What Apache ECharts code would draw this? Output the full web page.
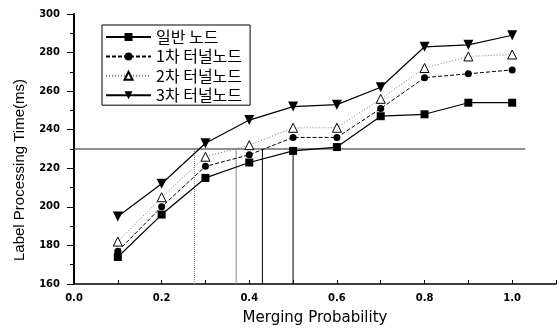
<!DOCTYPE html>
<html><head><meta charset="utf-8">
<script src="https://cdn.jsdelivr.net/npm/echarts@6/dist/echarts.min.js"></script>
<style>html,body{margin:0;padding:0;background:#fff}#c{width:559px;height:331px}</style>
</head><body><div id="c"></div>
<script>
const xValues = [0.1, 0.2, 0.3, 0.4, 0.5, 0.6, 0.7, 0.8, 0.9, 1.0];
const seriesNames = ['일반 노드', '1차 터널노드', '2차 터널노드', '3차 터널노드'];
const normalNode = [174, 196, 215, 223, 229, 231, 247, 248, 254, 254];
const tunnel1 = [177, 200, 221, 227, 236, 236, 251, 267, 269, 271];
const tunnel2 = [182, 205, 226, 232, 241, 241, 256, 272, 278, 279];
const tunnel3 = [195, 212, 233, 245, 252, 253, 262, 283, 284, 289];
const threshold = 230;
const thresholdXRange = [0, 1.03];
const crossX = [0.275, 0.37, 0.43, 0.5];
const yTicks = [160, 180, 200, 220, 240, 260, 280, 300];

const allValues = [normalNode, tunnel1, tunnel2, tunnel3];
const styles = [
  {symbol:'rect', size:8, rotate:0, color:'#000', line:'solid', lw:1.2, fill:'#000'},
  {symbol:'circle', size:7, rotate:0, color:'#000', line:[4,2], lw:1, fill:'#000'},
  {symbol:'triangle', size:9, rotate:0, color:'#777', line:[1,2], lw:1, fill:'#fff'},
  {symbol:'triangle', size:10, rotate:180, color:'#000', line:'solid', lw:1.2, fill:'#000'}
];
const vStyles = [
  {color:'#888', type:[1,1]},
  {color:'#888', type:'solid'},
  {color:'#000', type:'solid'},
  {color:'#000', type:'solid'}
];

const series = [];
allValues.forEach((vals, i) => {
  const s = styles[i];
  series.push({
    name: seriesNames[i], type: 'line',
    data: xValues.map((x, j) => [x, vals[j]]),
    symbol: s.symbol, symbolSize: s.size, symbolRotate: s.rotate,
    lineStyle: {color: s.color, width: s.lw, type: s.line},
    itemStyle: {color: s.fill, borderColor: '#000', borderWidth: i === 2 ? 1 : 0},
    z: 5
  });
});
series.push({
  name: 'threshold', type: 'line', silent: true, symbol: 'none',
  data: thresholdXRange.map(x => [x, threshold]),
  lineStyle: {color: '#222', width: 1}, z: 2
});
crossX.forEach((x, i) => {
  series.push({
    name: 'cross' + i, type: 'line', silent: true, symbol: 'none',
    data: [[x, yTicks[0]], [x, threshold]],
    lineStyle: {color: vStyles[i].color, width: 1, type: vStyles[i].type}, z: 2
  });
});

const chart = echarts.init(document.getElementById('c'), null, {renderer: 'canvas'});
chart.setOption({
  animation: false,
  backgroundColor: '#fff',
  textStyle: {fontFamily: 'Liberation Sans'},
  grid: {left: 74, right: 0, top: 14, bottom: 45.5, containLabel: false},
  legend: {
    data: seriesNames, orient: 'vertical', left: 102, top: 25,
    borderColor: '#000', borderWidth: 1, padding: [4, 8, 2, 3],
    itemWidth: 45, itemHeight: 10, itemGap: 3.4,
    textStyle: {fontFamily: 'Noto Sans CJK KR', fontSize: 16, lineHeight: 14, color: '#000'}
  },
  xAxis: {
    type: 'value', min: 0, max: 1.1, interval: 0.1,
    name: 'Merging Probability', nameLocation: 'middle', nameGap: 27,
    nameTextStyle: {fontSize: 15, fontFamily: 'DejaVu Sans', color: '#000'},
    axisLine: {lineStyle: {color: '#000', width: 1.5}},
    axisTick: {inside: true, length: 4, lineStyle: {color: '#000'}},
    axisLabel: {fontSize: 10, fontFamily: 'DejaVu Sans', color: '#000', fontWeight: 'bold', margin: 9,
      formatter: v => { const k = Math.round(v * 10); return (k % 2 === 0 && k <= 10) ? (k / 10).toFixed(1) : ''; }},
    splitLine: {show: false}
  },
  yAxis: {
    type: 'value', min: yTicks[0], max: yTicks[yTicks.length - 1], interval: 20,
    name: 'Label Processing Time(ms)', nameLocation: 'middle', nameGap: 47,
    nameTextStyle: {fontSize: 15, color: '#000', padding: [0, 42, 0, 0]},
    axisLine: {show: true, lineStyle: {color: '#000', width: 2}},
    axisTick: {length: 7, lineStyle: {color: '#000'}},
    minorTick: {show: true, splitNumber: 2, length: 4, lineStyle: {color: '#000'}},
    axisLabel: {fontSize: 10, fontFamily: 'DejaVu Sans', color: '#000', fontWeight: 'bold', margin: 14},
    splitLine: {show: false}
  },
  series: series
});
</script>
</body></html>
